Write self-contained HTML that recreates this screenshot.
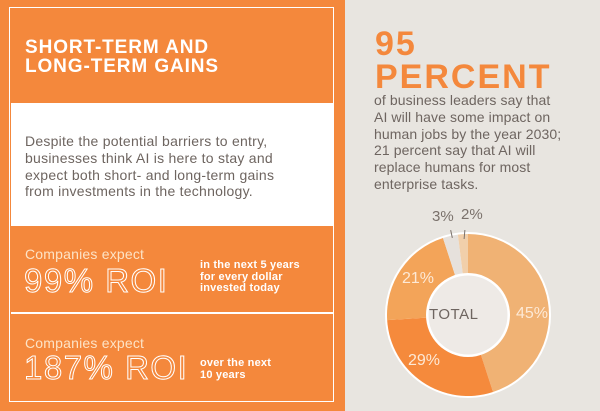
<!DOCTYPE html>
<html><head><meta charset="utf-8"><style>
*{margin:0;padding:0;box-sizing:border-box}
body{width:600px;height:411px;overflow:hidden;background:#e8e5e0;font-family:"Liberation Sans",sans-serif;position:relative}
.left{position:absolute;left:0;top:0;width:345px;height:411px;background:#f4883c}
.frame{position:absolute;left:9px;top:7px;width:325px;height:395px;border:1.5px solid #fff}
.t{position:absolute;white-space:nowrap}
.title{left:25px;top:38px;color:#fff;font-weight:bold;font-size:19px;line-height:19px;letter-spacing:0.9px}
.white{position:absolute;left:11px;top:103px;width:322px;height:122px;background:#fff}
.body{color:#6e6560;font-size:14px;line-height:16.8px;letter-spacing:0.25px}
.box{position:absolute;left:12px;width:320px;background:#f4883c}
.ce{color:#fde3c6;font-size:14px;letter-spacing:0.2px}
.roi{color:transparent;-webkit-text-stroke:1px #fff;font-size:33px;letter-spacing:1.5px}
.sm{color:#fff;font-weight:bold;font-size:11px;line-height:11.5px;letter-spacing:0.2px}
.big{color:#f4883c;font-weight:bold;font-size:34px;line-height:33px;letter-spacing:2px}
</style></head><body>
<div class="left"></div>
<div class="frame"></div>
<div class="white"></div>
<div class="t title">SHORT-TERM AND<br>LONG-TERM GAINS</div>
<div class="t body" style="left:25px;top:133px">Despite the potential barriers to entry,<br>businesses think AI is here to stay and<br>expect both short- and long-term gains<br>from investments in the technology.</div>
<div class="box" style="top:226px;height:85px"></div>
<div class="box" style="top:314px;height:86px"></div>
<div style="position:absolute;left:11px;top:312px;width:322px;height:1.5px;background:#fff"></div>
<div style="position:absolute;left:11px;top:224.5px;width:322px;height:1.5px;background:#fff"></div>
<div class="t ce" style="left:25px;top:246px">Companies expect</div>
<div class="t roi" style="left:24px;top:262px">99% ROI</div>
<div class="t sm" style="left:200px;top:260px">in the next 5 years<br>for every dollar<br>invested today</div>
<div class="t ce" style="left:25px;top:335px">Companies expect</div>
<div class="t roi" style="left:24px;top:349px">187% ROI</div>
<div class="t sm" style="left:200px;top:358px">over the next<br>10 years</div>
<div class="t big" style="left:375px;top:28px">95<br>PERCENT</div>
<div class="t body" style="left:374px;top:92px;letter-spacing:0.1px">of business leaders say that<br>AI will have some impact on<br>human jobs by the year 2030;<br>21 percent say that AI will<br>replace humans for most<br>enterprise tasks.</div>
<svg style="position:absolute;left:385px;top:232px" width="166" height="166" viewBox="-83 -83 166 166">
<circle r="83" fill="#fff"/>
<g id="pie"></g>
</svg>
<script>
var vals=[[45,"#f0b274"],[29,"#f58a3c"],[21,"#f3a459"],[3,"#e6e1dc"],[2,"#f1cfaa"]];
var g=document.getElementById("pie"),a=0,R=81,s="";
vals.forEach(function(v){var a0=a*3.6*Math.PI/180;a+=v[0];var a1=a*3.6*Math.PI/180;
var x0=R*Math.sin(a0),y0=-R*Math.cos(a0),x1=R*Math.sin(a1),y1=-R*Math.cos(a1);
s+='<path d="M0,0L'+x0+','+y0+'A'+R+','+R+' 0 '+((a1-a0)>Math.PI?1:0)+' 1 '+x1+','+y1+'Z" fill="'+v[1]+'"/>';});
s+='<circle r="42" fill="#fff"/><circle r="39.5" fill="#eeeae6"/>';
g.innerHTML=s;
</script>
<div class="t" style="left:429px;top:306px;font-size:15px;color:#6e6560;letter-spacing:0.5px">TOTAL</div>
<div class="t" style="left:516px;top:305px;font-size:16px;color:#fde9d6">45%</div>
<div class="t" style="left:408px;top:352px;font-size:16px;color:#fde9d6">29%</div>
<div class="t" style="left:402px;top:270px;font-size:16px;color:#fde9d6">21%</div>
<div class="t" style="left:432px;top:208px;font-size:15px;color:#7a716b">3%</div>
<div class="t" style="left:461px;top:206px;font-size:15px;color:#7a716b">2%</div>
<div style="position:absolute;left:451px;top:230px;width:1px;height:8px;background:#7a716b;transform:rotate(-12deg)"></div>
<div style="position:absolute;left:464px;top:230px;width:1px;height:9px;background:#7a716b;transform:rotate(5deg)"></div>
</body></html>
